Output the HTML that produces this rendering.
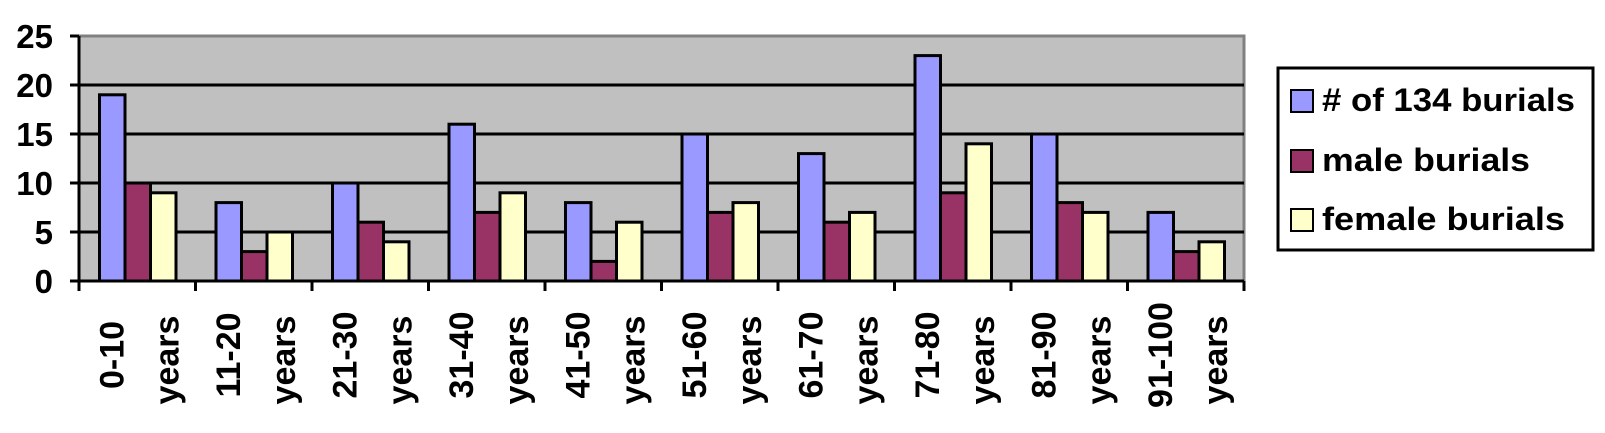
<!DOCTYPE html>
<html><head><meta charset="utf-8"><style>
body{margin:0;background:#fff;}
svg{display:block;font-family:"Liberation Sans",Arial,sans-serif;font-weight:bold;}
svg text{font-weight:bold;}
</style></head><body>
<svg id="chart" width="1605" height="433" viewBox="0 0 1605 433">
<rect x="79" y="36" width="1165" height="245" fill="#c0c0c0" stroke="#808080" stroke-width="3"/>
<g id="grid"></g><g id="bars"></g><g id="axes"></g><g id="xlabels"></g>
<g>
<rect x="1278" y="68" width="315" height="182" fill="#fff" stroke="#000" stroke-width="3"/>
<g><rect x="1291" y="90" width="22" height="22" fill="#9999ff" stroke="#000" stroke-width="2"/><text x="1322" y="111" style="font-size:32px" textLength="253" lengthAdjust="spacingAndGlyphs"># of 134 burials</text></g>
<g><rect x="1291" y="150" width="22" height="22" fill="#993366" stroke="#000" stroke-width="2"/><text x="1322" y="171" style="font-size:32px" textLength="208" lengthAdjust="spacingAndGlyphs">male burials</text></g>
<g><rect x="1291" y="209" width="22" height="22" fill="#ffffcc" stroke="#000" stroke-width="2"/><text x="1322" y="230" style="font-size:32px" textLength="243" lengthAdjust="spacingAndGlyphs">female burials</text></g>
</g>
</svg>
<script>
const categories=["0-10","11-20","21-30","31-40","41-50","51-60","61-70","71-80","81-90","91-100"];
const totalBurials=[19,8,10,16,8,15,13,23,15,7];
const maleBurials=[10,3,6,7,2,7,6,9,8,3];
const femaleBurials=[9,5,4,9,6,8,7,14,7,4];
const yTicks=[0,5,10,15,20,25];
const NS="http://www.w3.org/2000/svg";
const L=79,R=1244,T=36,B=281,yMax=25;
const gw=(R-L)/categories.length;
const y=v=>B-(v/yMax)*(B-T);
const xg=i=>L+i*gw;
function mk(tag,attrs,parent,text){const e=document.createElementNS(NS,tag);for(const k in attrs)e.setAttribute(k,attrs[k]);if(text!=null)e.textContent=text;document.getElementById(parent).appendChild(e);return e;}
yTicks.forEach(t=>{
  if(t>0&&t<yMax){const g=mk('line',{x1:L,x2:R,y1:y(t),y2:y(t),stroke:'#000','stroke-width':3},'grid');
  
  }
  const tk=mk('line',{x1:70,x2:L,y1:y(t),y2:y(t),stroke:'#000','stroke-width':3},'axes');
  
  
  const lb=mk('text',{x:53,y:y(t)+12,'text-anchor':'end',style:'font-size:33px'},'axes',String(t));
  
  
});
const series=[[totalBurials,'#9999ff','bar-total'],[maleBurials,'#993366','bar-male'],[femaleBurials,'#ffffcc','bar-female']];
const bw=25.5,off=20.5;
categories.forEach((c,i)=>{
  series.forEach((s,j)=>{
    const v=s[0][i];
    const r=mk('rect',{x:xg(i)+off+j*bw,y:y(v),width:bw,height:B-y(v),fill:s[1],stroke:'#000','stroke-width':3},'bars');
    
    
  });
  const cx=xg(i)+gw/2;
  const t1=mk('text',{transform:`translate(${cx-14},355) rotate(-90)`,'text-anchor':'middle',style:'font-size:34px'},'xlabels',c);
  
  
  const t2=mk('text',{transform:`translate(${cx+41},360) rotate(-90)`,'text-anchor':'middle',style:'font-size:34px'},'xlabels','years');
  
  
});
for(let i=0;i<=categories.length;i++){
  const tk=mk('line',{x1:xg(i),x2:xg(i),y1:B,y2:B+10,stroke:'#000','stroke-width':3},'axes');
  
  
}
const xa=mk('line',{x1:L,x2:R,y1:B,y2:B,stroke:'#000','stroke-width':3},'axes');


const ya=mk('line',{x1:L,x2:L,y1:T,y2:B,stroke:'#000','stroke-width':3},'axes');


</script>
</body></html>
